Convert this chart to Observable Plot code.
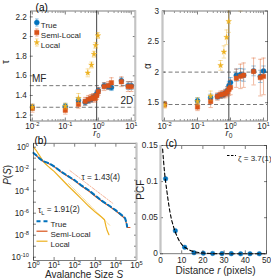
<!DOCTYPE html>
<html><head><meta charset="utf-8">
<script src="https://cdn.jsdelivr.net/npm/d3@7"></script>
<script src="https://cdn.jsdelivr.net/npm/@observablehq/plot@0.6"></script>
<style>
body{margin:0;background:#fff;}
#fig{position:relative;width:271px;height:278px;overflow:hidden;background:#fff;}
</style></head><body><div id="fig"></div>
<script>
// ---------- DATA ----------
// panel (a): exponents vs r0
const r0 = [0.01, 0.1, 0.25, 0.4, 0.5, 0.6, 0.7, 0.8, 0.9, 1.0, 1.5, 2.0, 2.5, 5, 8, 10];
const tauTrue    = [1.28, 1.29, 1.35, 1.33, 1.35, 1.36, 1.38, 1.39, 1.42, 1.45, 1.50, 1.49, 1.48, 1.55, 1.50, 1.50];
const tauTrueErr = [0.03, 0.03, 0.03, 0.03, 0.03, 0.03, 0.03, 0.03, 0.03, 0.03, 0.03, 0.03, 0.03, 0.03, 0.04, 0.04];
const tauSemi    = [1.27, 1.25, 1.31, 1.34, 1.36, 1.37, 1.38, 1.37, 1.40, 1.44, 1.49, 1.50, 1.53, 1.54, 1.49, 1.49];
const tauSemiErr = [0.04, 0.04, 0.04, 0.04, 0.04, 0.04, 0.04, 0.04, 0.04, 0.04, 0.04, 0.04, 0.05, 0.05, 0.05, 0.05];
const alphaTrue    = [1.48, 1.53, 1.58, 1.60, 1.62, 1.63, 1.66, 1.70, 1.78, 1.83, 1.95, 1.96, 1.95, 2.02, 1.93, 2.02];
const alphaTrueErr = [0.04, 0.05, 0.06, 0.05, 0.05, 0.05, 0.05, 0.06, 0.07, 0.08, 0.10, 0.10, 0.10, 0.08, 0.10, 0.08];
const alphaSemi    = [1.47, 1.43, 1.52, 1.60, 1.63, 1.64, 1.65, 1.68, 1.72, 1.75, 1.90, 1.93, 1.95, 2.01, 1.91, 1.93];
const alphaSemiErr = [0.05, 0.06, 0.10, 0.06, 0.06, 0.06, 0.07, 0.08, 0.10, 0.12, 0.15, 0.20, 0.20, 0.22, 0.30, 0.30];
const r0LocalTau  = [0.01, 0.1, 0.25, 0.48, 0.62, 0.74, 0.83, 0.97];
const tauLocal    = [1.28, 1.29, 1.37, 1.63, 1.71, 1.82, 1.91, 2.01];
const tauLocalErr = [0.03, 0.03, 0.05, 0.04, 0.03, 0.03, 0.03, 0.03];
const r0LocalAlpha  = [0.01, 0.1, 0.25, 0.5, 0.63, 0.76, 0.88, 2.0];
const alphaLocal    = [1.46, 1.52, 1.61, 2.11, 2.33, 2.57, 2.83, 3.40];
const alphaLocalErr = [0.05, 0.06, 0.08, 0.08, 0.10, 0.12, 0.18, 0.40];
const tauMF = 1.5, tau2D = 1.28, alphaMF = 2.0, alpha2D = 1.47, r0c = 0.89;
// panel (b): avalanche size distributions
const S_semi = [1, 1.41, 2, 3, 4, 5, 7, 10, 20, 50, 100, 200, 500, 1000, 2000, 5000, 1e4, 2e4, 2.8e4, 3.3e4, 3.6e4, 4.8e4];
const P_semi = [2.8e-1, 1.6e-1, 8.7e-2, 5e-2, 4.2e-2, 3.5e-2, 2.5e-2, 1.7e-2, 6.3e-3, 2e-3, 8.9e-4, 3.2e-4, 1e-4, 3.5e-5, 1.26e-5, 4e-6, 1.6e-6, 5.6e-7, 3.2e-7, 1e-7, 5e-8, 5e-8];
const S_true = [1, 1.41, 2, 3, 4, 5, 7, 10, 20, 50, 100, 200, 500, 1000, 2000, 5000, 1e4, 2e4, 2.8e4, 3.3e4, 3.5e4];
const P_true = [3e-1, 1.7e-1, 9e-2, 5.2e-2, 4.4e-2, 3.7e-2, 2.7e-2, 1.8e-2, 6.8e-3, 2.2e-3, 1e-3, 3.6e-4, 1.15e-4, 4e-5, 1.4e-5, 4.5e-6, 1.8e-6, 6.3e-7, 3.5e-7, 1.2e-7, 6e-8];
const S_local = [1, 1.41, 2, 3, 4, 5, 7, 10, 20, 50, 100, 200, 500, 1000, 2000, 2800, 3300, 3800, 4600];
const P_local = [1.0, 4.5e-1, 1.6e-1, 5e-2, 2.8e-2, 1.9e-2, 1.1e-2, 6.3e-3, 1.66e-3, 2.8e-4, 7.9e-5, 2.2e-5, 4e-6, 1.26e-6, 4.5e-7, 2.5e-7, 6.3e-8, 2.5e-8, 1.1e-8];
const S_fitT = [59, 7080];
const P_fitT = [7.3e-3, 7.8e-6];
const S_fitL = [50, 5000];
const P_fitL = [5e-4, 8e-8];
// panel (c): pair correlation function
const rPCF = [2.4, 7.0, 11.4, 15.8, 20.2, 24.6, 29.0, 33.4, 37.8, 42.2, 46.6];
const PCF  = [0.104, 0.032, 0.009, 0.0015, 0.0008, 0.0005, 0.0003, 0.0002, 0.0001, 0.0001, 0.0001];
const rFit   = [1, 2, 3, 4, 5, 6, 8, 10, 12, 15, 20, 25, 30, 40, 50];
const PCFfit = [0.145, 0.110, 0.087, 0.066, 0.050, 0.039, 0.023, 0.013, 0.008, 0.0037, 0.0011, 0.0003, 0.0001, 0, 0];
// tick labels
const tauTicks = [1.2, 1.4, 1.6, 1.8, 2, 2.2];
const alphaTicks = [1.5, 2, 2.5, 3];
const r0Ticks = [0.01, 0.1, 1, 10];
const sTicks = [1, 10, 100, 1e3, 1e4, 1e5];
const pTicks = [1, 1e-2, 1e-4, 1e-6, 1e-8, 1e-10];
const pcfTicks = [0, 0.05, 0.1, 0.15];
const rTicks = [0, 10, 20, 30, 40, 50];

// ---------- STYLE ----------
const FONT = '"Liberation Sans", Arial, Helvetica, sans-serif';
const BLUE = "#0072BD", RED = "#D95319", YEL = "#EDB120", AX = "#262626", EDGE = "#C4C4C4";
const TICKFS = 8.2, LABFS = 10;
const fig = document.getElementById("fig");
const hline = {draw(ctx, size){ const w = Math.sqrt(size/Math.PI); ctx.moveTo(-w,0); ctx.lineTo(w,0);} };
const vline = {draw(ctx, size){ const h = Math.sqrt(size/Math.PI); ctx.moveTo(0,-h); ctx.lineTo(0,h);} };
const logFmt = d => "10^" + Math.round(Math.log10(d));
function minorLog(lo, hi){ const out=[]; for(let e=lo;e<hi;e++) for(let k=2;k<10;k++) out.push(k*10**e); return out; }

const RICH = {
  "r0": '<tspan font-style="italic">r</tspan><tspan font-size="0.7em" dy="0.35em">0</tspan>',
  "P(S)": '<tspan font-style="italic">P</tspan>(<tspan font-style="italic">S</tspan>)',
  "Avalanche Size S": 'Avalanche Size <tspan font-style="italic">S</tspan>',
  "Distance r (pixels)": 'Distance <tspan font-style="italic">r</tspan> (pixels)',
  "tauL = 1.91(2)": 'τ<tspan font-size="0.7em" dy="0.35em">L</tspan><tspan dy="-0.35em"> = 1.91(2)</tspan>'
};
function place(svg, left, top){
  svg.style.position = "absolute"; svg.style.left = left+"px"; svg.style.top = top+"px";
  fig.appendChild(svg);
  d3.select(svg).selectAll("text").each(function(){
    const t = this.textContent;
    const m = /^10\^(-?\d+)$/.exec(t);
    if (m) {
      this.textContent = "";
      d3.select(this).append("tspan").text("10");
      d3.select(this).append("tspan").attr("dy","-0.5em").attr("font-size","0.7em").text(m[1]);
    } else if (RICH[t]) {
      this.innerHTML = RICH[t];
    }
  });
}

function boxAxes(xTicks, yTicks, xMinor, yMinor, xFmt, yFmt, opts={}){
  const xp = opts.xPad ?? 3, yp = opts.yPad ?? 3;
  const m = [];
  if (opts.grayX != null) m.push(Plot.ruleX([opts.grayX], {stroke:EDGE, strokeWidth:1.8}));
  m.push(
    Plot.axisX({anchor:"bottom", ticks:xTicks, tickSize:0, tickPadding:xp, tickFormat:xFmt, fontSize:TICKFS, fill:AX, label:null}),
    Plot.axisY({anchor:"left", ticks:yTicks, tickSize:0, tickPadding:yp, tickFormat:yFmt, fontSize:TICKFS, fill:AX, label:null})
  );
  for (const anchor of ["bottom","top"]) {
    m.push(Plot.axisX({anchor, ticks:xTicks, tickSize:-3, tickFormat:()=>"", stroke:AX, strokeWidth:0.6, label:null}));
    if (xMinor) m.push(Plot.axisX({anchor, ticks:xMinor, tickSize:-1.5, tickFormat:()=>"", stroke:AX, strokeWidth:0.5, label:null}));
  }
  for (const anchor of ["left","right"]) {
    m.push(Plot.axisY({anchor, ticks:yTicks, tickSize:-3, tickFormat:()=>"", stroke:AX, strokeWidth:0.6, label:null}));
    if (yMinor) m.push(Plot.axisY({anchor, ticks:yMinor, tickSize:-1.5, tickFormat:()=>"", stroke:AX, strokeWidth:0.5, label:null}));
  }
  m.push(Plot.frame({stroke:AX, strokeWidth:0.6}));
  if (opts.grayX != null) m.push(Plot.ruleX([opts.grayX], {stroke:EDGE, strokeWidth:1.8}));
  return m;
}

function series(data, y, e, color, symbol, r){
  return [
    Plot.ruleX(data, {x:"r", y1:d=>d[y]-d[e], y2:d=>d[y]+d[e], stroke:color, strokeOpacity:0.45, strokeWidth:0.9, clip:true}),
    Plot.dot(data, {x:"r", y:d=>d[y]+d[e], symbol:hline, r:2.2, stroke:color, strokeOpacity:0.45, strokeWidth:0.9, clip:true}),
    Plot.dot(data, {x:"r", y:d=>d[y]-d[e], symbol:hline, r:2.2, stroke:color, strokeOpacity:0.45, strokeWidth:0.9, clip:true}),
    Plot.dot(data, {x:"r", y, symbol, r, fill:color, stroke:color, strokeWidth:0.4, clip:true})
  ];
}

const A = r0.map((r,i)=>({r, tt:tauTrue[i], tte:tauTrueErr[i], ts:tauSemi[i], tse:tauSemiErr[i],
                            at:alphaTrue[i], ate:alphaTrueErr[i], as:alphaSemi[i], ase:alphaSemiErr[i]}));
const LT = r0LocalTau.map((r,i)=>({r, v:tauLocal[i], e:tauLocalErr[i]}));
const LA = r0LocalAlpha.map((r,i)=>({r, v:alphaLocal[i], e:alphaLocalErr[i]}));
const xDomA = [0.0087, 13.2];
const r0Minor = minorLog(-3, 2).filter(v => v > xDomA[0] && v < xDomA[1]);
const STAR_R = 1.75, MK_R = 2.5;

function legendA(){
  const items = [["True", BLUE, "circle", MK_R], ["Semi-Local", RED, "square", MK_R], ["Local", YEL, "star", STAR_R]];
  const out = [];
  items.forEach(([name, c, sym, rr], i) => {
    const dy = 11.5 + 10*i;
    out.push(Plot.dot([0], {frameAnchor:"top-left", dx:6.5, dy, symbol:vline, r:3.6, stroke:c, strokeOpacity:0.45, strokeWidth:0.9}));
    out.push(Plot.dot([0], {frameAnchor:"top-left", dx:6.5, dy:dy-3.6, symbol:hline, r:1.8, stroke:c, strokeOpacity:0.45, strokeWidth:0.9}));
    out.push(Plot.dot([0], {frameAnchor:"top-left", dx:6.5, dy:dy+3.6, symbol:hline, r:1.8, stroke:c, strokeOpacity:0.45, strokeWidth:0.9}));
    out.push(Plot.dot([0], {frameAnchor:"top-left", dx:6.5, dy, symbol:sym, r:rr, fill:c, stroke:c, strokeWidth:0.4}));
    out.push(Plot.text([0], {frameAnchor:"top-left", dx:10.5, dy, text:()=>name, textAnchor:"start", fontSize:8, fill:AX}));
  });
  return out;
}

// ---- (a) left: tau ----
const pTau = Plot.plot({
  width:137, height:140, marginLeft:29.8, marginRight:2.2, marginTop:10.5, marginBottom:19.5,
  style:{background:"transparent", overflow:"visible", fontFamily:FONT},
  x:{type:"log", domain:xDomA}, y:{domain:[1.14, 2.26]},
  marks:[
    Plot.ruleY([tauMF, tau2D], {stroke:"#555", strokeWidth:0.8, strokeDasharray:"4,2.5"}),
    Plot.ruleX([r0c], {stroke:"#444", strokeWidth:1}),
    ...series(A, "tt", "tte", BLUE, "circle", MK_R),
    ...series(A, "ts", "tse", RED, "square", MK_R),
    ...series(LT, "v", "e", YEL, "star", STAR_R),
    Plot.text(["MF"], {x:0.0098, y:tauMF, text:d=>d, textAnchor:"start", dy:-6.5, fontSize:LABFS, fill:AX}),
    Plot.text(["2D"], {x:11.5, y:tau2D, text:d=>d, textAnchor:"end", dy:-6.5, fontSize:LABFS, fill:AX}),
    ...legendA(),
    ...boxAxes(r0Ticks, tauTicks, r0Minor, null, logFmt, d=>String(d), {xPad:2.5, yPad:3.5, grayX:xDomA[1]}),
    Plot.text([0], {frameAnchor:"left", dx:-24.5, dy:-2, rotate:-90, text:()=>"τ", fontSize:LABFS, fill:AX}),
    Plot.text([0], {frameAnchor:"bottom", dx:14, dy:15, text:()=>"r0", fontSize:9.5, fill:AX}),
    Plot.text([0], {frameAnchor:"top-left", dx:5.3, dy:-7, text:()=>"(a)", fontSize:LABFS, fill:"#000"})
  ]
});
place(pTau, 0, 0);

// ---- (a) right: alpha ----
const pAlpha = Plot.plot({
  width:131, height:140, marginLeft:22, marginRight:4, marginTop:10.5, marginBottom:19.5,
  style:{background:"transparent", overflow:"visible", fontFamily:FONT},
  x:{type:"log", domain:xDomA}, y:{domain:[1.2, 3]},
  marks:[
    Plot.ruleY([alphaMF, alpha2D], {stroke:"#555", strokeWidth:0.8, strokeDasharray:"4,2.5"}),
    Plot.ruleX([r0c], {stroke:"#444", strokeWidth:1}),
    ...series(A, "at", "ate", BLUE, "circle", MK_R),
    ...series(A, "as", "ase", RED, "square", MK_R),
    ...series(LA, "v", "e", YEL, "star", STAR_R),
    ...boxAxes(r0Ticks, alphaTicks, r0Minor, null, logFmt, d=>String(d), {xPad:2.5, yPad:3.5, grayX:xDomA[0]}),
    Plot.text([0], {frameAnchor:"left", dx:-14.5, dy:3, rotate:-90, text:()=>"α", fontSize:LABFS, fill:AX}),
    Plot.text([0], {frameAnchor:"bottom", dx:14, dy:15, text:()=>"r0", fontSize:9.5, fill:AX})
  ]
});
place(pAlpha, 140, 0);

// ---- (b) ----
const semi = S_semi.map((S,i)=>({S, P:P_semi[i]}));
const tru = S_true.map((S,i)=>({S, P:P_true[i]}));
const loc = S_local.map((S,i)=>({S, P:P_local[i]}));
const fitT = S_fitT.map((S,i)=>({S, P:P_fitT[i]}));
const fitL = S_fitL.map((S,i)=>({S, P:P_fitL[i]}));
const pDecades = [1,1e-1,1e-2,1e-3,1e-4,1e-5,1e-6,1e-7,1e-8,1e-9,1e-10];
const xDomB = [1, 1e5];
const pB = Plot.plot({
  width:145, height:148, marginLeft:33, marginRight:9, marginTop:12.7, marginBottom:18,
  style:{background:"transparent", overflow:"visible", fontFamily:FONT},
  x:{type:"log", domain:xDomB}, y:{type:"log", domain:[10**-10.3, 10**0.36]},
  marks:[
    Plot.line(fitT, {x:"S", y:"P", stroke:"#F2A07E", strokeWidth:0.8, strokeDasharray:"3,1.5,1,1.5"}),
    Plot.line(fitL, {x:"S", y:"P", stroke:"#F3CB73", strokeWidth:0.8, strokeDasharray:"3,1.5,1,1.5"}),
    Plot.line(loc, {x:"S", y:"P", stroke:YEL, strokeWidth:1.2}),
    Plot.line(semi, {x:"S", y:"P", stroke:RED, strokeWidth:1.2}),
    Plot.line(tru, {x:"S", y:"P", stroke:BLUE, strokeWidth:2, strokeDasharray:"4,3"}),
    Plot.text(["τ = 1.43(4)"], {frameAnchor:"top-left", dx:48, dy:30.5, text:d=>d, textAnchor:"start", fontSize:8.2, fill:AX}),
    Plot.text(["tauL = 1.91(2)"], {frameAnchor:"top-left", dx:4.5, dy:64, text:d=>d, textAnchor:"start", fontSize:8.2, fill:AX}),
    ...[["True", BLUE, "4,3", 2], ["Semi-Local", RED, null, 1.2], ["Local", YEL, null, 1.2]].flatMap(([name,c,dash,w],i)=>[
      Plot.dot([0], {frameAnchor:"top-left", dx:8.5, dy:78+10*i, symbol:hline, r:5.5, stroke:c, strokeWidth:w, strokeDasharray:dash}),
      Plot.text([0], {frameAnchor:"top-left", dx:17, dy:78+10*i, text:()=>name, textAnchor:"start", fontSize:8, fill:AX})
    ]),
    ...boxAxes(sTicks, pDecades, null, null, logFmt, d => pTicks.includes(d) ? logFmt(d) : "", {xPad:2, yPad:4.5, grayX:xDomB[1]}),
    Plot.text([0], {frameAnchor:"left", dx:-26, dy:-17, rotate:-90, text:()=>"P(S)", fontSize:LABFS, fill:AX}),
    Plot.text([0], {frameAnchor:"bottom", dx:-1, dy:17, text:()=>"Avalanche Size S", fontSize:LABFS, fill:AX}),
    Plot.text([0], {frameAnchor:"top-left", dx:1, dy:-6.5, text:()=>"(b)", fontSize:LABFS, fill:"#000"})
  ]
});
place(pB, 0, 130);

// ---- (c) ----
const pcf = rPCF.map((r,i)=>({r, v:PCF[i]}));
const fitC = rFit.map((r,i)=>({r, v:PCFfit[i]}));
const xDomC = [0, 50];
const pC = Plot.plot({
  width:131, height:148, marginLeft:20, marginRight:5, marginTop:15, marginBottom:24.7,
  style:{background:"transparent", overflow:"visible", fontFamily:FONT},
  x:{domain:xDomC}, y:{domain:[0, 0.15]},
  marks:[
    Plot.dot(pcf, {x:"r", y:"v", r:2.3, fill:BLUE, stroke:BLUE, strokeWidth:0.4}),
    Plot.line(fitC, {x:"r", y:"v", stroke:"#000", strokeWidth:1.1, strokeDasharray:"3.5,2.5", curve:"monotone-x"}),
    Plot.dot([0], {frameAnchor:"top-left", dx:71, dy:10, symbol:hline, r:4.5, stroke:"#000", strokeWidth:1, strokeDasharray:"2.5,1.5"}),
    Plot.text(["ζ = 3.7(1)"], {frameAnchor:"top-left", dx:77.5, dy:10, text:d=>d, textAnchor:"start", fontSize:8, fill:AX}),
    ...boxAxes(rTicks, pcfTicks, null, null, d=>String(d), d=>String(d), {xPad:3, yPad:2.7, grayX:xDomC[0]}),
    Plot.text([0], {frameAnchor:"left", dx:-20, dy:0, rotate:-90, text:()=>"PCF", fontSize:LABFS, fill:AX}),
    Plot.text([0], {frameAnchor:"bottom", dx:2, dy:20, text:()=>"Distance r (pixels)", fontSize:LABFS, fill:AX}),
    Plot.text([0], {frameAnchor:"top-left", dx:5, dy:-6, text:()=>"(c)", fontSize:LABFS, fill:"#000"})
  ]
});
place(pC, 140, 130);
</script></body></html>
